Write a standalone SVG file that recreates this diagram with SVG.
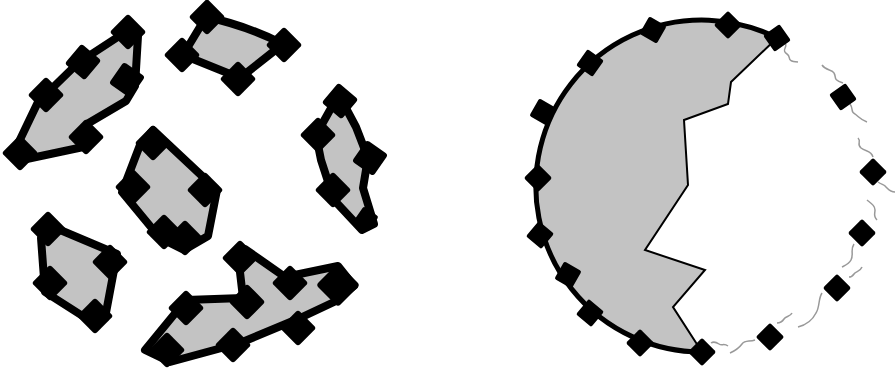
<svg xmlns="http://www.w3.org/2000/svg" xmlns:xlink="http://www.w3.org/1999/xlink" width="896" height="371" viewBox="0 0 896 371">
<style>
.piece{fill:#c3c3c3;stroke:#000;stroke-width:8;stroke-linejoin:round}
.fill{fill:#c3c3c3;stroke:none}
.edge{fill:none;stroke:#000;stroke-width:2;stroke-linejoin:miter}
.arc{fill:none;stroke:#000;stroke-width:5}
.wave{fill:none;stroke:#999;stroke-width:1.5}
</style>
<defs>
<rect id="dl" x="-13" y="-13" width="26" height="26" rx="3" fill="#000"/>
<rect id="dr" x="-10" y="-10" width="20" height="20" rx="2" fill="#000"/>
</defs>
<rect width="896" height="371" fill="#fff"/>
<g id="left">
<g id="piece1">
<path class="piece" d="M130,29 L138,36 L135,86 L126,101 L87,124 L88,146 L22,160 L15,150 L38,102 L78,63 Z"/>
<use xlink:href="#dl" transform="translate(128,32) rotate(45)"/>
<use xlink:href="#dl" transform="translate(83,62) rotate(40)"/>
<use xlink:href="#dl" transform="translate(46,95) rotate(45)"/>
<use xlink:href="#dl" transform="translate(20,153) rotate(45)"/>
<use xlink:href="#dl" transform="translate(86,137) rotate(45)"/>
<use xlink:href="#dl" transform="translate(127,80) rotate(35)"/>
</g>
<g id="piece2">
<path class="piece" d="M206,17 Q245,25 283,44 L240,78 L183,55 Z"/>
<use xlink:href="#dl" transform="translate(207,17) rotate(45)"/>
<use xlink:href="#dl" transform="translate(284,45) rotate(45)"/>
<use xlink:href="#dl" transform="translate(238,79) rotate(45)"/>
<use xlink:href="#dl" transform="translate(182,55) rotate(45)"/>
</g>
<g id="piece3">
<path class="piece" d="M340,97 L356,127 L368,158 L363,188 L374,224 L362,230 L334,200 L321,160 L316,135 L330,110 Z"/>
<use xlink:href="#dl" transform="translate(340,101) rotate(40)"/>
<use xlink:href="#dl" transform="translate(318,135) rotate(45)"/>
<use xlink:href="#dl" transform="translate(370,158) rotate(35)"/>
<use xlink:href="#dl" transform="translate(333,190) rotate(45)"/>
<use xlink:href="#dl" transform="translate(366,219) rotate(35) scale(0.7)"/>
</g>
<g id="piece4">
<path class="piece" d="M153,130 L217,190 L208,236 L184,250 L160,238 L122,192 L140,145 Z"/>
<use xlink:href="#dl" transform="translate(153,143) rotate(45)"/>
<use xlink:href="#dl" transform="translate(133,187) rotate(45)"/>
<use xlink:href="#dl" transform="translate(205,190) rotate(45)"/>
<use xlink:href="#dl" transform="translate(185,238) rotate(45)"/>
<use xlink:href="#dl" transform="translate(164,232) rotate(45)"/>
</g>
<g id="piece5">
<path class="piece" d="M46,224 L117,254 L105,318 L92,322 L45,292 L41,238 Z"/>
<use xlink:href="#dl" transform="translate(48,229) rotate(45)"/>
<use xlink:href="#dl" transform="translate(110,262) rotate(45)"/>
<use xlink:href="#dl" transform="translate(50,283) rotate(45)"/>
<use xlink:href="#dl" transform="translate(95,316) rotate(45)"/>
</g>
<g id="piece6">
<path class="piece" d="M145,350 L186,300 L243,298 L238,255 L245,249 L285,277 L338,266 L354,286 L334,302 L300,318 L240,343 L170,362 Z"/>
<use xlink:href="#dl" transform="translate(167,350) rotate(45)"/>
<use xlink:href="#dl" transform="translate(186,308) rotate(45)"/>
<use xlink:href="#dl" transform="translate(240,258) rotate(45)"/>
<use xlink:href="#dl" transform="translate(247,302) rotate(45)"/>
<use xlink:href="#dl" transform="translate(290,283) rotate(45)"/>
<use xlink:href="#dl" transform="translate(338,285) rotate(45) scale(1.2)"/>
<use xlink:href="#dl" transform="translate(233,345) rotate(45)"/>
<use xlink:href="#dl" transform="translate(298,328) rotate(45)"/>
</g>
</g>
<g id="right">
<g id="region">
<path class="fill" d="M777,38 L731,82 L728,104 L684,120 L688,185 L645,250 L705,270 L673,307 L702,352 A166,166 0 1 1 777,38 Z"/>
<path class="edge" d="M777,38 L731,82 L728,104 L684,120 L688,185 L645,250 L705,270 L673,307 L702,352"/>
<path class="arc" d="M702,352 A166,166 0 1 1 777,38"/>
</g>
<g id="waves">
<path class="wave" d="M784,42 c6,4 -4,8 3,12 c5,3 -2,7 11,8"/>
<path class="wave" d="M822,65 c4,6 10,4 12,8 c3,5 -2,6 9,10"/>
<path class="wave" d="M850,104 c4,5 0,8 5,10 c4,3 6,6 12,8"/>
<path class="wave" d="M858,138 c4,4 -2,6 3,10 c5,4 10,2 12,9"/>
<path class="wave" d="M878,182 c4,3 6,2 8,5 c3,3 4,5 9,5"/>
<path class="wave" d="M867,200 c5,4 8,6 8,10 c0,4 -2,6 2,10"/>
<path class="wave" d="M854,244 c-4,6 0,10 -3,16 c-2,4 -5,5 -9,7"/>
<path class="wave" d="M862,267 c-2,5 -6,4 -8,7 c-2,3 -3,3 -5,3"/>
<path class="wave" d="M822,293 c-4,6 -2,14 -6,20 c-4,8 -10,12 -18,14"/>
<path class="wave" d="M792,313 c-2,4 -6,3 -8,6 c-2,3 -4,4 -7,4"/>
<path class="wave" d="M755,340 c-6,2 -10,0 -13,4 c-3,4 -5,6 -12,9"/>
<path class="wave" d="M728,346 c-4,-3 -6,0 -9,-2 c-3,-2 -5,-3 -8,-1"/>
</g>
<g id="markers">
<use xlink:href="#dr" transform="translate(653,30) rotate(30)"/>
<use xlink:href="#dr" transform="translate(728,25) rotate(45)"/>
<use xlink:href="#dr" transform="translate(777,38) rotate(55)"/>
<use xlink:href="#dr" transform="translate(590,63) rotate(35)"/>
<use xlink:href="#dr" transform="translate(543,112) rotate(30)"/>
<use xlink:href="#dr" transform="translate(538,178) rotate(45)"/>
<use xlink:href="#dr" transform="translate(540,235) rotate(40)"/>
<use xlink:href="#dr" transform="translate(568,275) rotate(30)"/>
<use xlink:href="#dr" transform="translate(590,313) rotate(40)"/>
<use xlink:href="#dr" transform="translate(640,343) rotate(45)"/>
<use xlink:href="#dr" transform="translate(702,352) rotate(45)"/>
<use xlink:href="#dr" transform="translate(843,97) rotate(55)"/>
<use xlink:href="#dr" transform="translate(873,172) rotate(45)"/>
<use xlink:href="#dr" transform="translate(862,233) rotate(45)"/>
<use xlink:href="#dr" transform="translate(837,288) rotate(45)"/>
<use xlink:href="#dr" transform="translate(770,337) rotate(45)"/>
</g>
</g>
</svg>
